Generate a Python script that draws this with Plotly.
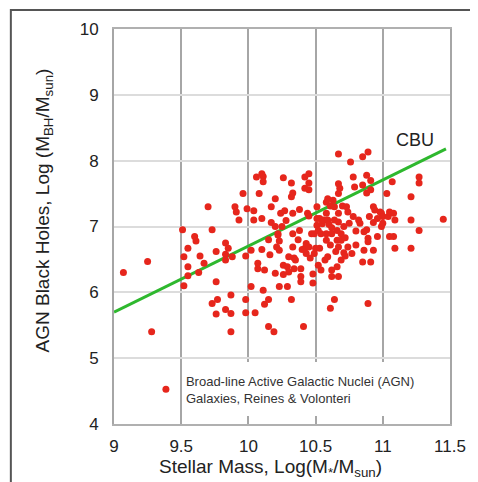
import plotly.graph_objects as go

# stellar mass log(M*/Msun) and black hole mass log(MBH/Msun) of broad-line AGN
agn_mass = [
    9.07, 9.25, 9.28, 9.51, 9.52, 9.52, 9.55, 9.55, 9.55, 9.60, 9.61, 9.64, 9.63, 9.67,
    9.70, 9.73, 9.73, 9.76, 9.76, 9.77, 9.76, 9.83, 9.83, 9.83, 9.85, 9.83, 9.87, 9.87,
    9.87, 9.88, 9.90, 9.91, 9.93, 9.96, 9.99, 9.98, 9.98, 9.98, 10.02, 10.02, 10.04, 10.04,
    10.05, 10.06, 10.08, 10.07, 10.07, 10.10, 10.11, 10.11, 10.10, 10.10, 10.11, 10.12, 10.12,
    10.15, 10.16, 10.15, 10.15, 10.17, 10.17, 10.19, 10.20, 10.20, 10.20, 10.21, 10.22, 10.22,
    10.23, 10.23, 10.23, 10.24, 10.25, 10.26, 10.26, 10.26, 10.27, 10.28, 10.29, 10.29, 10.30,
    10.30, 10.32, 10.32, 10.33, 10.33, 10.33, 10.32, 10.33, 10.34, 10.34, 10.35, 10.37, 10.38,
    10.39, 10.39, 10.39, 10.38, 10.40, 10.41, 10.42, 10.42, 10.42, 10.43, 10.43, 10.44, 10.45,
    10.45, 10.45, 10.45, 10.45, 10.46, 10.47, 10.48, 10.48, 10.49, 10.49, 10.50, 10.51, 10.51,
    10.51, 10.52, 10.52, 10.53, 10.53, 10.54, 10.54, 10.55, 10.56, 10.57, 10.58, 10.58, 10.58,
    10.58, 10.59, 10.59, 10.59, 10.60, 10.61, 10.61, 10.61, 10.62, 10.62, 10.62, 10.62, 10.63,
    10.64, 10.64, 10.64, 10.65, 10.66, 10.66, 10.66, 10.67, 10.67, 10.67, 10.67, 10.67, 10.67,
    10.67, 10.68, 10.69, 10.69, 10.69, 10.70, 10.71, 10.71, 10.72, 10.72, 10.73, 10.74, 10.74,
    10.75, 10.76, 10.77, 10.78, 10.78, 10.79, 10.80, 10.80, 10.82, 10.83, 10.85, 10.85, 10.85,
    10.86, 10.86, 10.88, 10.88, 10.88, 10.89, 10.89, 10.89, 10.89, 10.90, 10.91, 10.91, 10.91,
    10.93, 10.93, 10.93, 10.94, 10.96, 10.96, 10.98, 10.99, 10.99, 11.00, 11.00, 11.03, 11.04,
    11.05, 11.05, 11.07, 11.08, 11.08, 11.09, 11.09, 11.21, 11.21, 11.21, 11.27, 11.27, 11.27,
    11.45,
]
agn_bh = [
    6.30, 6.47, 5.40, 6.95, 6.54, 6.10, 6.67, 6.39, 6.25, 6.85, 6.78, 6.55, 6.30, 6.44,
    7.30, 6.95, 5.83, 6.16, 5.67, 5.89, 6.62, 6.75, 6.58, 6.49, 6.67, 5.74, 5.68, 5.96,
    5.40, 6.54, 7.30, 7.22, 7.10, 7.50, 7.27, 6.55, 5.89, 5.69, 6.09, 6.64, 7.24, 7.10,
    5.69, 7.75, 7.50, 6.36, 6.44, 7.80, 7.76, 7.68, 7.12, 6.65, 6.03, 5.82, 6.34,
    6.80, 6.57, 5.48, 5.89, 7.30, 7.06, 5.40, 7.42, 7.00, 6.29, 6.69, 6.87, 6.89,
    6.78, 6.09, 6.64, 7.20, 7.00, 7.74, 6.27, 6.41, 7.24, 7.09, 6.09, 6.39, 6.31,
    6.54, 7.66, 7.45, 7.51, 7.20, 6.89, 5.89, 6.69, 6.52, 6.36, 6.49, 6.80, 7.26,
    6.24, 6.16, 6.36, 6.94, 6.65, 5.48, 7.75, 7.58, 6.67, 6.59, 6.74, 7.20, 7.80,
    7.66, 7.56, 7.16, 6.69, 6.52, 6.89, 6.28, 6.14, 6.89, 6.59, 6.67, 7.12, 7.30,
    7.02, 6.94, 6.41, 6.67, 7.12, 6.34, 6.89, 7.04, 7.10, 6.49, 6.89, 6.79, 7.37,
    7.20, 7.42, 7.10, 6.54, 7.03, 5.76, 7.31, 6.72, 6.98, 6.34, 6.24, 6.89, 7.40,
    7.30, 7.10, 5.89, 6.62, 6.39, 6.79, 6.94, 8.10, 7.65, 7.50, 7.20, 7.07, 6.69,
    6.24, 7.58, 6.89, 6.49, 6.79, 7.31, 6.60, 7.00, 6.55, 6.83, 7.30, 6.69, 7.22,
    7.05, 7.98, 6.59, 7.75, 7.15, 7.60, 6.72, 6.93, 7.10, 7.05, 8.06, 7.63, 6.46,
    6.92, 6.64, 7.78, 7.51, 6.95, 6.82, 8.13, 5.83, 6.77, 7.15, 7.70, 6.46, 7.56,
    7.30, 6.64, 7.06, 7.25, 6.85, 7.12, 7.22, 7.20, 7.00, 7.05, 7.15, 7.50, 7.15,
    6.85, 7.22, 7.68, 7.20, 6.85, 6.67, 7.10, 7.45, 7.10, 6.67, 7.75, 7.66, 6.94,
    7.11,
]

# CBU relation
cbu_mass = [9.0, 11.47]
cbu_bh = [5.70, 8.18]

x_ticks = [9, 9.5, 10, 10.5, 11, 11.5]
y_ticks = [4, 5, 6, 7, 8, 9, 10]

FONT = "Liberation Sans, Arial, sans-serif"

fig = go.Figure()
fig.add_trace(go.Scatter(x=cbu_mass, y=cbu_bh, mode="lines",
                         line=dict(color="#2eb82e", width=3),
                         showlegend=False, hoverinfo="skip"))
fig.add_trace(go.Scatter(x=agn_mass, y=agn_bh, mode="markers",
                         marker=dict(color="#e6261c", size=7),
                         name="Broad-line Active Galactic Nuclei (AGN)<br>Galaxies, Reines & Volonteri"))

fig.add_annotation(x=11.24, y=8.32, text="CBU", showarrow=False,
                   font=dict(size=18, color="#222", family=FONT))
fig.add_annotation(xref="paper", yref="paper", x=-0.209, y=0.540,
                   xanchor="center", yanchor="middle",
                   text="AGN Black Holes, Log (M<sub>BH</sub>/M<sub>sun</sub>)",
                   textangle=-90, showarrow=False,
                   font=dict(size=19, color="#222", family=FONT))
fig.add_annotation(xref="paper", yref="paper", x=0.465, y=-0.111,
                   xanchor="center", yanchor="middle",
                   text="Stellar Mass, Log(M<sub>*</sub>/M<sub>sun</sub>)",
                   showarrow=False, font=dict(size=19, color="#222", family=FONT))

# white box behind the legend text, covers grid lines
fig.add_shape(type="rect", x0=9.52, x1=11.3, y0=4.12, y1=4.94,
              fillcolor="white", line_width=0, layer="between")
# outer frame of the picture
fig.add_shape(type="rect", xref="paper", yref="paper",
              x0=-0.307, x1=1.106, y0=-0.167, y1=1.048,
              line=dict(color="#555", width=2))

fig.update_xaxes(range=[9, 11.5], tickvals=x_ticks, showgrid=True,
                 gridcolor="#a6a6a6", gridwidth=2, zeroline=False,
                 showline=True, mirror=True, linecolor="#b0b0b0", linewidth=2,
                 ticklabelstandoff=6,
                 tickfont=dict(size=17, color="#222", family=FONT))
fig.update_yaxes(range=[4, 10], tickvals=y_ticks, showgrid=True,
                 gridcolor="#dcdcdc", gridwidth=2, zeroline=False,
                 showline=True, mirror=True, linecolor="#a6a6a6", linewidth=2,
                 ticklabelstandoff=10,
                 tickfont=dict(size=17, color="#222", family=FONT))

# the page puts the figure 8px from the top-left corner
fig.update_layout(width=470, height=474,
                  margin=dict(l=106, r=24, t=21, b=58),
                  paper_bgcolor="white", plot_bgcolor="white",
                  showlegend=True,
                  legend=dict(x=0.095, y=0.147, xanchor="left", yanchor="top",
                              bgcolor="rgba(0,0,0,0)",
                              font=dict(size=13, color="#333", family=FONT)))

fig.write_html("out.html")
